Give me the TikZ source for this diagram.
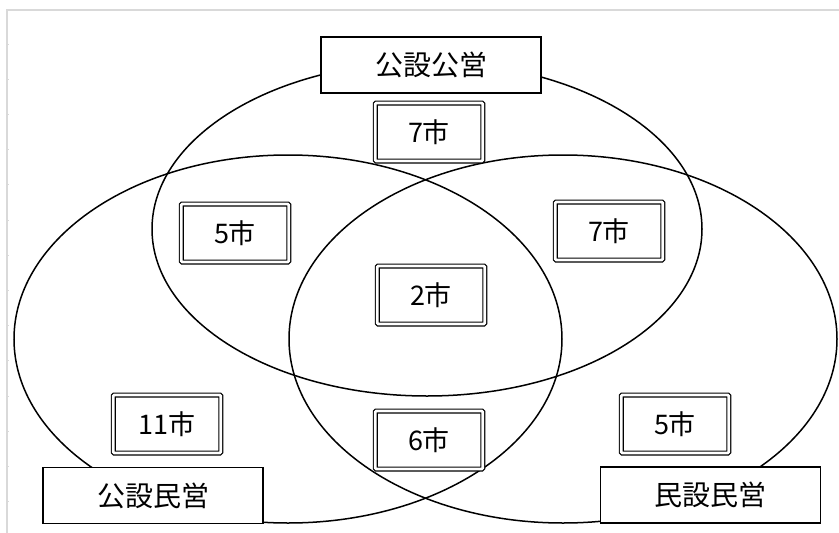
\documentclass[tikz,border=0pt]{standalone}
\usepackage{fontspec}
\newfontfamily\jp{Noto Sans CJK JP}
\tikzset{
  ring/.style={draw=black, line width=1.5pt},
  lbl/.style={draw=black, line width=1.6pt, fill=white, minimum width=220pt, minimum height=56pt, inner sep=0pt, font=\jp\fontsize{28}{28}\selectfont},
  cnt/.style={draw=black, double=white, double distance=2.6pt, line width=1.2pt, fill=white, rounded corners=1pt, minimum width=107.5pt, minimum height=58pt, inner sep=0pt, font=\jp\fontsize{27}{27}\selectfont},
  frame/.style={draw=black!15, line width=1.5pt}
}
\begin{document}
\begin{tikzpicture}[x=1pt,y=-1pt]
\useasboundingbox (0,0) rectangle (839,533);
\fill[white] (0,0) rectangle (839,533);
% sheet frame
\draw[frame] (7,533) -- (7,10) -- (839,10);
\foreach \yy in {44,79.2,114.4,149.6,184.8,220,255.2,290.4,325.6,360.8,396,431.2,466.4,501.6}
  \draw[draw=black!15, line width=1pt] (7,\yy) -- (9,\yy);
% circles
\draw[ring] (427,229) ellipse [x radius=275, y radius=167];
\draw[ring] (288,339) ellipse [x radius=274, y radius=184];
\draw[ring] (563,339) ellipse [x radius=274, y radius=184];
% labels
\node[lbl] (koko) at (431,65) {公設公営};
\node[lbl] (komin) at (153,495.5) {公設民営};
\node[lbl] (minmin) at (710.5,495) {民設民営};
% counts
\node[cnt] (top) at (429,132) {7市};
\node[cnt] (lefttop) at (235,233) {5市};
\node[cnt] (righttop) at (609,231) {7市};
\node[cnt] (center) at (431,295) {2市};
\node[cnt] (leftonly) at (167,424) {11市};
\node[cnt] (bottom) at (429,440) {6市};
\node[cnt] (rightonly) at (675,424) {5市};
\end{tikzpicture}
\end{document}
